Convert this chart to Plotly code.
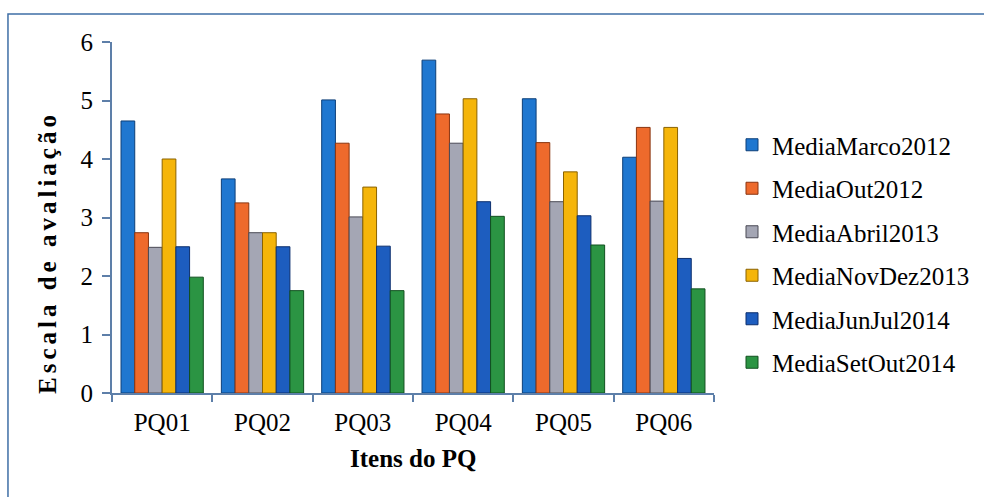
import plotly.graph_objects as go

categories = ["PQ01", "PQ02", "PQ03", "PQ04", "PQ05", "PQ06"]
series_names = ["MediaMarco2012", "MediaOut2012", "MediaAbril2013",
                "MediaNovDez2013", "MediaJunJul2014", "MediaSetOut2014"]
media_marco2012 = [4.65, 3.66, 5.01, 5.69, 5.03, 4.03]
media_out2012 = [2.74, 3.25, 4.27, 4.77, 4.28, 4.54]
media_abril2013 = [2.49, 2.74, 3.01, 4.27, 3.27, 3.28]
media_novdez2013 = [4.00, 2.74, 3.52, 5.03, 3.78, 4.54]
media_junjul2014 = [2.50, 2.50, 2.51, 3.27, 3.03, 2.30]
media_setout2014 = [1.98, 1.75, 1.75, 3.02, 2.53, 1.78]
y_ticks = [0, 1, 2, 3, 4, 5, 6]

values = [media_marco2012, media_out2012, media_abril2013,
          media_novdez2013, media_junjul2014, media_setout2014]
colors = ["#1f77d0", "#ee6a2c", "#a4a6b4", "#f5b50a", "#1d5dbf", "#2b9443"]
edges = ["#0d3f78", "#8a3510", "#4a4a55", "#8a6200", "#0c2f6e", "#11501f"]

FONT = "Liberation Serif, Times New Roman, serif"
W, H = 984, 497

fig = go.Figure()
for name, vals, c, e in zip(series_names, values, colors, edges):
    fig.add_trace(go.Bar(
        x=categories, y=vals, name=name, legendgroup=name,
        marker=dict(color=c, line=dict(color=e, width=1)),
    ))

axis_col = "#5d7fa9"
fig.update_layout(
    width=W, height=H,
    margin=dict(l=112, r=270, t=42, b=104),
    paper_bgcolor="white", plot_bgcolor="white",
    barmode="group", bargap=0.18, bargroupgap=0,
    font=dict(family=FONT, size=25, color="black"),
    showlegend=True,
    legend=dict(x=732 / W, xref="container", y=1 - 122 / H, yref="container",
                xanchor="left", yanchor="top", maxheight=420,
                font=dict(family=FONT, size=25, color="black"),
                traceorder="grouped", tracegroupgap=8,
                bgcolor="rgba(0,0,0,0)"),
    xaxis=dict(showline=True, linecolor=axis_col, linewidth=2,
               ticks="outside", tickson="boundaries", ticklen=7,
               tickcolor=axis_col, tickwidth=2, showgrid=False,
               tickfont=dict(family=FONT, size=25, color="black"),
               ticklabelstandoff=6),
    yaxis=dict(range=[0, 6], tickvals=y_ticks, showline=True,
               linecolor=axis_col, linewidth=2, ticks="outside", ticklen=8,
               tickcolor=axis_col, tickwidth=2, showgrid=False, zeroline=False,
               tickfont=dict(family=FONT, size=25, color="black"),
               ticklabelstandoff=4),
    annotations=[
        dict(text="<b>Escala de avaliação</b>", xref="paper", yref="paper",
             x=-0.108, y=0.4017, xanchor="center", yanchor="middle",
             textangle=-90, showarrow=False,
             font=dict(family=FONT, size=25, color="black")),
        dict(text="<b>Itens do PQ</b>", xref="paper", yref="paper",
             x=0.5, y=-0.186, xanchor="center", yanchor="middle",
             showarrow=False, font=dict(family=FONT, size=25, color="black")),
    ],
    shapes=[
        dict(type="rect", xref="paper", yref="paper",
             x0=-0.1728, x1=1.6, y0=-0.5, y1=1.0798,
             line=dict(color="#3f6fa6", width=1.5), fillcolor="rgba(0,0,0,0)",
             layer="below"),
    ],
)

post = """
document.body.style.margin='0';
var gd=document.getElementById('{plot_id}');
gd.querySelectorAll('.annotation-text').forEach(function(e){
  if(e.textContent.indexOf('Escala')===0){ e.setAttribute('letter-spacing','4px'); }
});
"""
fig.write_html("out.html", post_script=post, config={"displayModeBar": False})
